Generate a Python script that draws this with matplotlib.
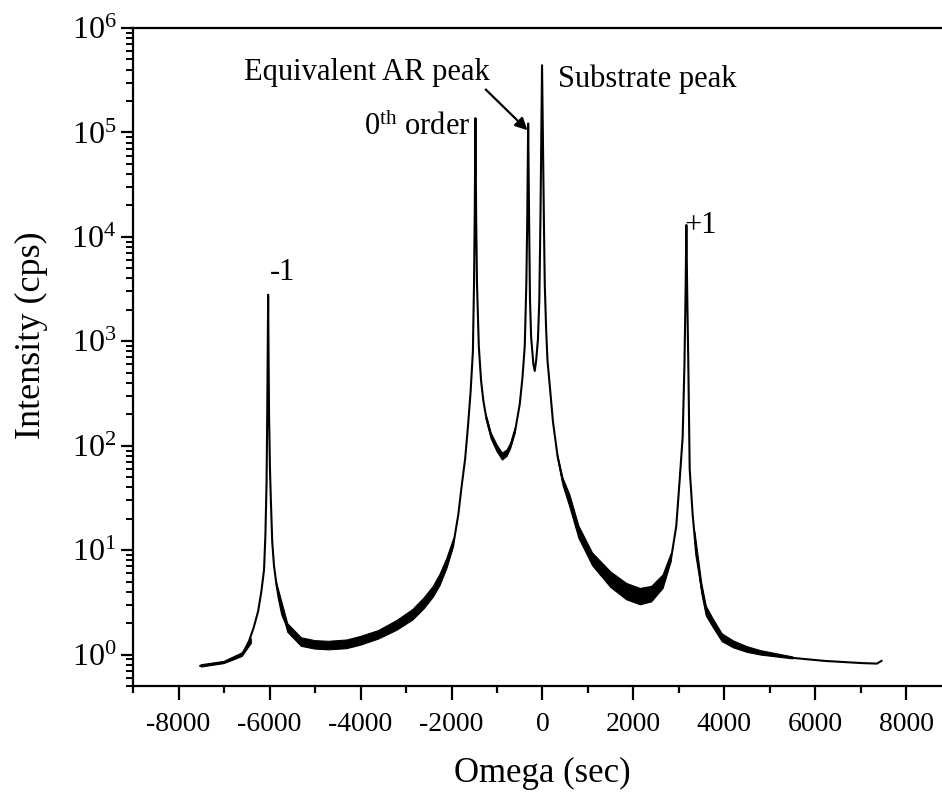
import numpy as np
import matplotlib
matplotlib.use("Agg")
import matplotlib.pyplot as plt
from matplotlib.ticker import LogLocator, MultipleLocator, NullFormatter

plt.rcParams['font.family'] = ['Liberation Serif', 'DejaVu Serif']
plt.rcParams['mathtext.fontset'] = 'custom'
plt.rcParams['mathtext.rm'] = 'Liberation Serif'
plt.rcParams['mathtext.it'] = 'Liberation Serif:italic'
plt.rcParams['mathtext.bf'] = 'Liberation Serif:bold'

# rocking curve (omega in sec, intensity in cps)
omega = [-7520, -7300, -7000, -6800, -6600, -6450, -6350, -6250, -6180, -6120,
         -6090, -6065, -6050, -6040, -6030, -6020, -6010, -5990, -5970, -5940,
         -5900, -5850, -5800, -5720, -5600, -5500, -5300, -5000, -4700, -4300,
         -4000, -3600, -3200, -2850, -2600, -2400, -2250, -2100, -1950, -1850,
         -1780, -1700, -1640, -1580, -1530, -1505, -1490, -1474, -1458, -1440,
         -1400, -1350, -1300, -1240, -1130, -1000, -880, -780, -700, -600,
         -500, -440, -390, -355, -335, -315, -295, -275, -250, -200,
         -170, -140, -100, -70, -45, -10, 30, 50, 80, 110,
         150, 230, 330, 450, 600, 800, 1100, 1500, 1850, 2150,
         2400, 2650, 2830, 2940, 3010, 3080, 3120, 3145, 3162, 3180,
         3205, 3235, 3300, 3380, 3500, 3600, 3750, 3950, 4200, 4500,
         4800, 5500, 6200, 7000, 7350, 7450]
intensity = [0.78, 0.80, 0.84, 0.90, 1.0, 1.35, 1.8, 2.6, 4.0, 6.5,
             14, 44, 200, 700, 2800, 700, 200, 60, 30, 12,
             7, 4.8, 3.5, 2.4, 1.8, 1.5, 1.32, 1.24, 1.22, 1.25,
             1.35, 1.55, 1.9, 2.4, 3.1, 4.0, 5.2, 7.5, 12, 22,
             40, 75, 150, 330, 800, 3600, 15000, 137000, 15000, 3600,
             900, 420, 270, 190, 125, 95, 79, 85, 100, 140,
             250, 450, 900, 3600, 15000, 122000, 15000, 2500, 1100, 600,
             520, 650, 1050, 2500, 15000, 440000, 15000, 3500, 1300, 650,
             420, 170, 80, 45, 30, 15, 8.2, 5.2, 4.0, 3.6,
             3.8, 5.0, 8.5, 17, 44, 120, 600, 3000, 13000, 3000,
             600, 60, 22, 9, 4.3, 2.6, 2.0, 1.45, 1.25, 1.12,
             1.04, 0.93, 0.87, 0.83, 0.82, 0.87]

# envelope of the thickness fringes (nan = no visible band)
band_x = [-7500, -7000, -6600, -6400, np.nan,
          -5850, -5600, -5300, -5000, -4700, -4300, -4000, -3600, -3200, -2850,
          -2600, -2400, -2250, -2100, -1950, np.nan,
          -1240, -1130, -1000, -880, -780, -700, -600, np.nan,
          330, 450, 600, 800, 1100, 1500, 1850, 2150, 2400, 2650, 2830, np.nan,
          3350, 3500, 3600, 3750, 3950, 4200, 4500, 4800, 5500]
band_lo = [0.76, 0.82, 0.96, 1.28, np.nan,
           4.6, 1.64, 1.20, 1.13, 1.11, 1.14, 1.23, 1.41, 1.71, 2.14,
           2.75, 3.55, 4.6, 6.7, 11, np.nan,
           180, 117, 88, 73, 79, 94, 132, np.nan,
           78, 42, 26, 13, 7.1, 4.4, 3.35, 3.0, 3.2, 4.3, 7.8, np.nan,
           12, 3.85, 2.35, 1.82, 1.33, 1.16, 1.05, 0.99, 0.91]
band_hi = [0.80, 0.86, 1.04, 1.42, np.nan,
           5.0, 1.98, 1.45, 1.36, 1.34, 1.38, 1.49, 1.70, 2.12, 2.70,
           3.5, 4.5, 5.9, 8.4, 13, np.nan,
           200, 133, 102, 85, 91, 106, 148, np.nan,
           82, 49, 34, 17, 9.4, 6.2, 4.8, 4.3, 4.5, 5.8, 9.3, np.nan,
           15, 4.8, 2.9, 2.2, 1.58, 1.35, 1.19, 1.09, 0.95]

xticks = [-8000, -6000, -4000, -2000, 0, 2000, 4000, 6000, 8000]
yticks = [1, 10, 100, 1000, 1e4, 1e5, 1e6]
ytick_labels = [r'$10^{0}$', r'$10^{1}$', r'$10^{2}$', r'$10^{3}$',
                r'$10^{4}$', r'$10^{5}$', r'$10^{6}$']

fig = plt.figure(figsize=(9.42, 7.92), dpi=100)
ax = fig.add_axes([0.1412, 0.1338, 0.8694, 0.8308])

ax.fill_between(band_x, band_lo, band_hi, color='black', linewidth=0.8)
ax.plot(omega, intensity, color='black', linewidth=1.5)

ax.set_yscale('log')
ax.set_xlim(-9000, 9000)
ax.set_ylim(0.5, 1e6)
ax.set_xticks(xticks)
ax.set_xticklabels([str(t) for t in xticks])
ax.xaxis.set_minor_locator(MultipleLocator(1000))
ax.set_yticks(yticks)
ax.set_yticklabels(ytick_labels)
ax.yaxis.set_minor_locator(LogLocator(base=10, subs=np.arange(2, 10), numticks=20))
ax.yaxis.set_minor_formatter(NullFormatter())

for s in ['left', 'bottom', 'top']:
    ax.spines[s].set_linewidth(1.6)
ax.spines['right'].set_visible(False)

ax.tick_params(axis='x', which='major', direction='out', length=10, width=1.6,
               labelsize=20, pad=9, top=False)
ax.tick_params(axis='x', which='minor', direction='out', length=5, width=1.6, top=False)
ax.tick_params(axis='y', which='major', direction='out', length=9, width=1.6,
               labelsize=23, pad=3, right=False)
ax.tick_params(axis='y', which='minor', direction='out', length=5, width=1.4, right=False)

ax.set_xlabel('Omega (sec)', fontsize=25, labelpad=14)
ax.set_ylabel('Intensity (cps)', fontsize=26)
ax.yaxis.set_label_coords(-0.104, 0.533)

ax.text(-6000, 3900, '-1', fontsize=22)
ax.text(3120, 11000, '+1', fontsize=22)
ax.text(-3930, 95000, r'0$^{\mathrm{th}}$ order', fontsize=22)
ax.text(330, 2.7e5, 'Substrate peak', fontsize=22)
ax.annotate('Equivalent AR peak', xy=(-330, 1.05e5), xytext=(-6550, 3.2e5),
            fontsize=22, ha='left', va='baseline',
            arrowprops=dict(arrowstyle='-|>', color='black', lw=1.6,
                            mutation_scale=18, shrinkA=0, shrinkB=0,
                            relpos=(0.97, 0.0)))

plt.savefig('out.png', dpi=100)
